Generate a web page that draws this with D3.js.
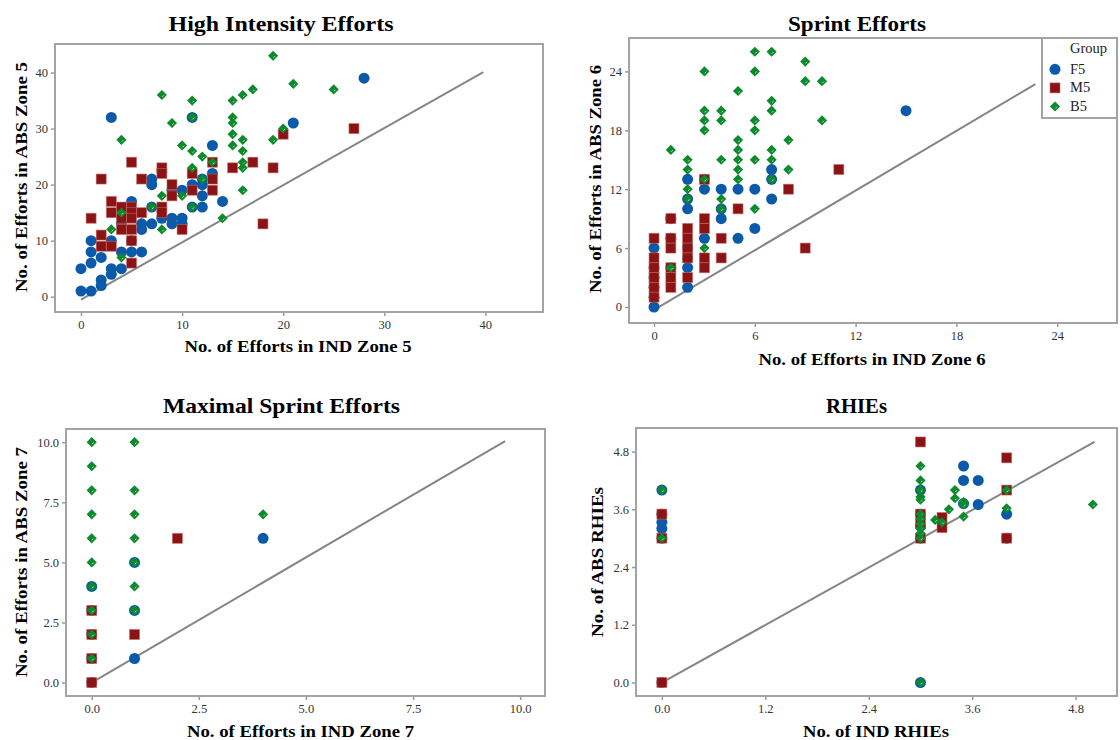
<!DOCTYPE html>
<html><head><meta charset="utf-8">
<script src="https://cdn.jsdelivr.net/npm/d3@7"></script>
<style>
html,body{margin:0;padding:0;background:#fff;}
svg{display:block;}
</style></head>
<body><svg id="c" width="1120" height="740"></svg>
<script>
// ---------- DATA ----------
const groups = ["F5", "M5", "B5"];
const legendTitle = "Group";

// High Intensity Efforts  [IND Zone 5, ABS Zone 5]
const hiF5 = [[0,5],[0,1],[1,10],[1,8],[1,6],[1,1],[2,7],[2,3],[2,2],[3,32],[3,10],[3,5],[3,4],[4,8],[4,5],[4,13],[5,17],[5,10],[5,8],[6,13],[6,12],[6,8],[7,21],[7,20],[7,16],[7,13],[8,14],[9,19],[9,14],[9,13],[10,19],[10,14],[10,13],[11,32],[11,20],[11,16],[12,21],[12,20],[12,18],[12,16],[13,27],[13,22],[14,17],[21,31],[28,39]];
const hiM5 = [[1,14],[2,21],[2,11],[2,9],[3,17],[3,15],[3,9],[4,16],[4,14],[4,12],[5,24],[5,16],[5,15],[5,14],[5,12],[5,10],[5,6],[6,21],[6,15],[8,23],[8,22],[8,16],[8,15],[9,20],[9,18],[10,12],[11,22],[11,19],[13,24],[13,21],[13,19],[15,23],[17,24],[18,13],[19,23],[20,29],[27,30]];
const hiB5 = [[19,43],[21,38],[25,37],[17,37],[16,36],[15,35],[11,35],[8,36],[9,31],[11,32],[15,32],[15,31],[15,29],[15,27],[16,28],[16,26],[16,24],[16,23],[16,19],[19,28],[20,30],[4,28],[10,27],[11,26],[12,25],[13,24],[11,23],[12,21],[8,18],[10,18],[7,16],[11,16],[4,15],[14,14],[3,12],[8,12],[4,7]];
const hiRef = [[0,-0.5],[39.8,40.1]];
const hiTicks = [0,10,20,30,40];

// Sprint Efforts  [IND Zone 6, ABS Zone 6]
const spF5 = [[0,0],[0,1],[0,2],[0,3],[0,4],[0,6],[1,9],[1,7],[1,4],[2,13],[2,11],[2,10],[2,6],[2,5],[2,4],[2,2],[3,13],[3,12],[3,7],[4,12],[4,10],[4,9],[5,12],[5,7],[6,12],[6,8],[7,14],[7,13],[7,11],[15,20]];
const spM5 = [[0,7],[0,5],[0,4],[0,3],[0,2],[0,1],[1,9],[1,7],[1,6],[1,4],[1,3],[1,2],[2,8],[2,7],[2,6],[2,5],[2,3],[3,13],[3,9],[3,8],[3,5],[3,4],[4,7],[4,5],[5,10],[8,12],[9,6],[11,14]];
const spB5 = [[6,26],[7,26],[3,24],[6,24],[9,25],[9,23],[10,23],[5,22],[7,21],[7,20],[3,20],[3,19],[3,18],[4,20],[4,19],[6,19],[6,18],[10,19],[8,17],[5,17],[5,16],[5,15],[5,14],[5,13],[1,16],[2,15],[2,14],[2,12],[2,11],[4,15],[6,15],[7,16],[7,15],[7,13],[8,14],[3,13],[4,11],[4,10],[6,10],[3,6],[1,4]];
const spRef = [[0,-0.3],[22.7,22.7]];
const spTicks = [0,6,12,18,24];

// Maximal Sprint Efforts  [IND Zone 7, ABS Zone 7]
const msF5 = [[0,0],[0,1],[0,2],[0,3],[0,4],[1,1],[1,3],[1,5],[4,6]];
const msM5 = [[0,0],[0,1],[0,2],[0,3],[1,2],[2,6]];
const msB5 = [[0,10],[0,9],[0,8],[0,7],[0,6],[0,5],[0,4],[0,3],[0,2],[0,1],[1,10],[1,8],[1,7],[1,6],[1,5],[1,4],[1,3],[4,7]];
const msRef = [[0,0],[9.65,10.05]];
const msTicks = [0,2.5,5,7.5,10];

// RHIEs  [IND RHIEs, ABS RHIEs]
const rhF5 = [[0,0],[0,4],[0,3.5],[0,3.33],[0,3.2],[0,3],[3,0],[3,4],[3,3.5],[3,3.25],[3,3],[3.5,4.5],[3.5,4.2],[3.67,4.2],[3.67,3.7],[3.5,3.72],[4,3.5],[4,3]];
const rhM5 = [[0,0],[0,3.5],[0,3],[3,5],[3,3.5],[3,3.3],[3,3],[3.25,3.43],[3.25,3.22],[4,4.67],[4,4],[4,3]];
const rhB5 = [[0,4],[0,3],[3,0],[3,4.5],[3,4.2],[3,4],[3,3.86],[3,3.8],[3,3.5],[3,3.4],[3,3.3],[3,3.2],[3,3.1],[3,3],[3.17,3.38],[3.25,3.33],[3.33,3.6],[3.4,4],[3.4,3.83],[3.5,3.75],[3.5,3.7],[3.5,3.45],[4,3.62],[4,4],[5,3.7]];
const rhRef = [[0,0],[5.02,5.0]];
const rhTicks = [0,1.2,2.4,3.6,4.8];

const titles = ["High Intensity Efforts","Sprint Efforts","Maximal Sprint Efforts","RHIEs"];
const xLabels = ["No. of Efforts in IND Zone 5","No. of Efforts in IND Zone 6","No. of Efforts in IND Zone 7","No. of IND RHIEs"];
const yLabels = ["No. of Efforts in ABS Zone 5","No. of Efforts in ABS Zone 6","No. of Efforts in ABS Zone 7","No. of ABS RHIEs"];

// ---------- LAYOUT / STYLE ----------
const colors = {F5:"#0a5aa9", M5:"#8c1313", B5:"#0d8a2c"};
const SERIF = "'Liberation Serif','Times New Roman',Times,serif";

const panels = [
  {box:[55,44,543,312], xd:[-2.57,45.7], yd:[-2.73,45.1], ticks:hiTicks, fmt:d3.format("d"),
   data:{F5:hiF5,M5:hiM5,B5:hiB5}, ref:hiRef,
   t:[281,30.7,225], xl:[298,352,227], yl:[27,177,230]},
  {box:[629,38,1117,323], xd:[-1.49,27.56], yd:[-1.63,27.4], ticks:spTicks, fmt:d3.format("d"),
   data:{F5:spF5,M5:spM5,B5:spB5}, ref:spRef,
   t:[857,30.7,138], xl:[872,365,227], yl:[601,179,228]},
  {box:[66,429,545,696], xd:[-0.6,10.58], yd:[-0.56,10.55], ticks:msTicks, fmt:d3.format(".1f"),
   data:{F5:msF5,M5:msM5,B5:msB5}, ref:msRef,
   t:[281.5,413,237], xl:[300.5,737,227], yl:[27,562,230]},
  {box:[636,428,1117,696], xd:[-0.3,5.28], yd:[-0.28,5.29], ticks:rhTicks, fmt:d3.format(".1f"),
   data:{F5:rhF5,M5:rhM5,B5:rhB5}, ref:rhRef,
   t:[856.5,413,61], xl:[876,737,146], yl:[603,562,150]}
];

const svg = d3.select("#c");

function drawMarker(g, grp, x, y) {
  if (grp === "F5") {
    g.append("circle").attr("cx", x).attr("cy", y).attr("r", 5.5)
      .attr("fill", colors.F5);
  } else if (grp === "M5") {
    const s = 10;
    g.append("rect").attr("x", x - s/2).attr("y", y - s/2).attr("width", s).attr("height", s)
      .attr("fill", colors.M5).attr("stroke", "#c86b6b").attr("stroke-width", 0.8).attr("stroke-opacity", 0.7);
  } else {
    const h = 5.1;
    g.append("path").attr("d", `M${x},${y-h}L${x+h},${y}L${x},${y+h}L${x-h},${y}Z`)
      .attr("fill", colors.B5);
    g.append("path").attr("d", `M${x+0.3},${y+1.9}L${x+1.9},${y+0.3}`)
      .attr("stroke", "#e8f5ea").attr("stroke-width", 0.8).attr("fill", "none");
  }
}

panels.forEach((p, i) => {
  const [L, T, R, B] = p.box;
  const x = d3.scaleLinear().domain(p.xd).range([L, R]);
  const y = d3.scaleLinear().domain(p.yd).range([B, T]);
  const g = svg.append("g");

  g.append("text").attr("x", p.t[0]).attr("y", p.t[1]).attr("text-anchor", "middle")
    .attr("font-family", SERIF).attr("font-weight", "bold").attr("font-size", 21)
    .attr("textLength", p.t[2]).attr("lengthAdjust", "spacingAndGlyphs")
    .attr("fill", "#000").text(titles[i]);

  const xa = g.append("g").attr("transform", `translate(0,${B})`)
    .call(d3.axisBottom(x).tickValues(p.ticks).tickFormat(p.fmt).tickSize(4).tickSizeOuter(0).tickPadding(4));
  const ya = g.append("g").attr("transform", `translate(${L},0)`)
    .call(d3.axisLeft(y).tickValues(p.ticks).tickFormat(p.fmt).tickSize(4).tickSizeOuter(0).tickPadding(3));
  [xa, ya].forEach(a => {
    a.select(".domain").remove();
    a.selectAll(".tick line").attr("stroke", "#9a9a9a").attr("stroke-width", 1.5);
    a.selectAll(".tick text").attr("font-family", SERIF).attr("font-size", 12.5).attr("fill", "#333");
  });

  g.append("path").datum(p.ref)
    .attr("d", d3.line().x(d => x(d[0])).y(d => y(d[1])))
    .attr("stroke", "#858585").attr("stroke-width", 2).attr("fill", "none");

  const pg = g.append("g");
  groups.forEach(grp => {
    p.data[grp].forEach(d => drawMarker(pg, grp, x(d[0]), y(d[1])));
  });

  g.append("rect").attr("x", L).attr("y", T).attr("width", R - L).attr("height", B - T)
    .attr("fill", "none").attr("stroke", "#a3a3a3").attr("stroke-width", 2);

  g.append("text").attr("x", p.xl[0]).attr("y", p.xl[1]).attr("text-anchor", "middle")
    .attr("font-family", SERIF).attr("font-weight", "bold").attr("font-size", 17.5)
    .attr("textLength", p.xl[2]).attr("lengthAdjust", "spacingAndGlyphs")
    .text(xLabels[i]);
  g.append("text").attr("transform", `translate(${p.yl[0]},${p.yl[1]}) rotate(-90)`)
    .attr("text-anchor", "middle")
    .attr("font-family", SERIF).attr("font-weight", "bold").attr("font-size", 17.5)
    .attr("textLength", p.yl[2]).attr("lengthAdjust", "spacingAndGlyphs")
    .text(yLabels[i]);
});

const lg = svg.append("g");
lg.append("rect").attr("x", 1042).attr("y", 38).attr("width", 75).attr("height", 80)
  .attr("fill", "#fff").attr("stroke", "#a3a3a3").attr("stroke-width", 2);
lg.append("text").attr("x", 1070).attr("y", 53).attr("font-family", SERIF).attr("font-size", 14.5)
  .attr("fill", "#222").text(legendTitle);
groups.forEach((grp, k) => {
  const cy = 69.3 + k * 18.6;
  drawMarker(lg, grp, 1055, cy);
  lg.append("text").attr("x", 1070).attr("y", cy + 4.5).attr("font-family", SERIF).attr("font-size", 14.5)
    .attr("fill", "#222").text(grp);
});
</script>
</body></html>
